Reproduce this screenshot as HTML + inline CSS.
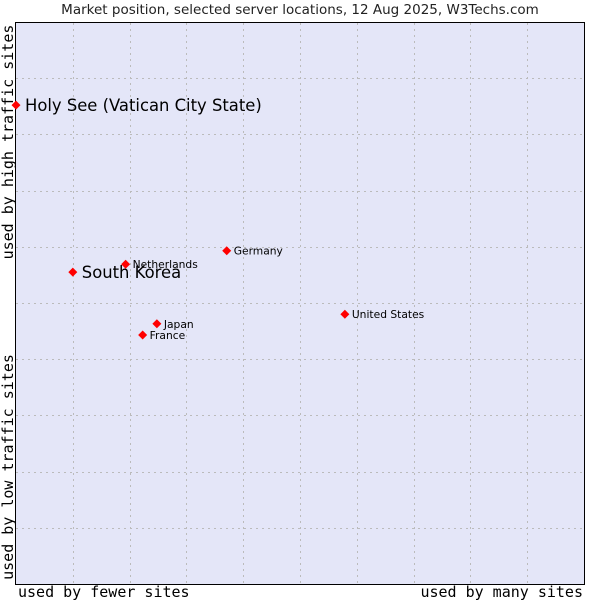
<!DOCTYPE html>
<html><head><meta charset="utf-8"><style>
body{margin:0;background:#fff;width:600px;height:600px;overflow:hidden}
svg{display:block}
</style></head><body>
<svg id="chart" width="600" height="600">
<text x="300" y="14" text-anchor="middle" font-family="DejaVu Sans, sans-serif" font-size="13.5" fill="#222">Market position, selected server locations, 12 Aug 2025, W3Techs.com</text>
<rect x="15.5" y="22.5" width="569" height="562" fill="#e4e6f8" stroke="#000" stroke-width="1"/>
<g id="grid"></g>
<text transform="translate(13,142) rotate(-90)" text-anchor="middle" font-family="DejaVu Sans Mono, monospace" font-size="15" fill="#000">used by high traffic sites</text>
<text transform="translate(13,467) rotate(-90)" text-anchor="middle" font-family="DejaVu Sans Mono, monospace" font-size="15" fill="#000">used by low traffic sites</text>
<text x="18" y="597" font-family="DejaVu Sans Mono, monospace" font-size="15" fill="#000">used by fewer sites</text>
<text x="583" y="597" text-anchor="end" font-family="DejaVu Sans Mono, monospace" font-size="15" fill="#000">used by many sites</text>
<g id="points"></g>
</svg>
<script>
const names = ["Holy See (Vatican City State)","South Korea","Netherlands","Germany","United States","Japan","France"];
const xValues = [0,10,19.3,37.1,57.9,24.8,22.3];
const yValues = [85.2,55.5,56.9,59.3,48.0,46.3,44.3];
const bigLabel = [true,true,false,false,false,false,false];
const NS="http://www.w3.org/2000/svg";
const L=16,R=584,T=22,B=584;
function xs(v){return L+v/100*(R-L);}
function ys(v){return B-v/100*(B-T);}
const grid=document.getElementById('grid');
for(let i=1;i<10;i++){
  const x=Math.round(L+i*(R-L)/10)+0.5;
  const l=document.createElementNS(NS,'line');
  l.setAttribute('x1',x);l.setAttribute('x2',x);l.setAttribute('y1',T+1);l.setAttribute('y2',B);
  l.setAttribute('stroke','#bbb');l.setAttribute('stroke-dasharray','2,4');
  
  
  grid.appendChild(l);
  const y=Math.round(T+i*(B-T)/10)+0.5;
  const h=document.createElementNS(NS,'line');
  h.setAttribute('x1',L);h.setAttribute('x2',R);h.setAttribute('y1',y);h.setAttribute('y2',y);
  h.setAttribute('stroke','#bbb');h.setAttribute('stroke-dasharray','2,4');
  
  
  grid.appendChild(h);
}
const pts=document.getElementById('points');
names.forEach((n,i)=>{
  const x=xs(xValues[i]),y=ys(yValues[i]);
  const d=document.createElementNS(NS,'path');
  d.setAttribute('d',`M${x-4.5},${y} L${x},${y-4.5} L${x+4.5},${y} L${x},${y+4.5} Z`);
  d.setAttribute('fill','#f00');
  
  
  pts.appendChild(d);
  const t=document.createElementNS(NS,'text');
  t.setAttribute('x',x+(bigLabel[i]?9:7));
  t.setAttribute('y',y+(bigLabel[i]?6:4));
  t.setAttribute('font-family','DejaVu Sans, sans-serif');
  t.setAttribute('font-size',bigLabel[i]?'16.4':'10.7');
  t.setAttribute('fill','#000');
  t.textContent=n;
  
  
  pts.appendChild(t);
});
</script>
</body></html>
